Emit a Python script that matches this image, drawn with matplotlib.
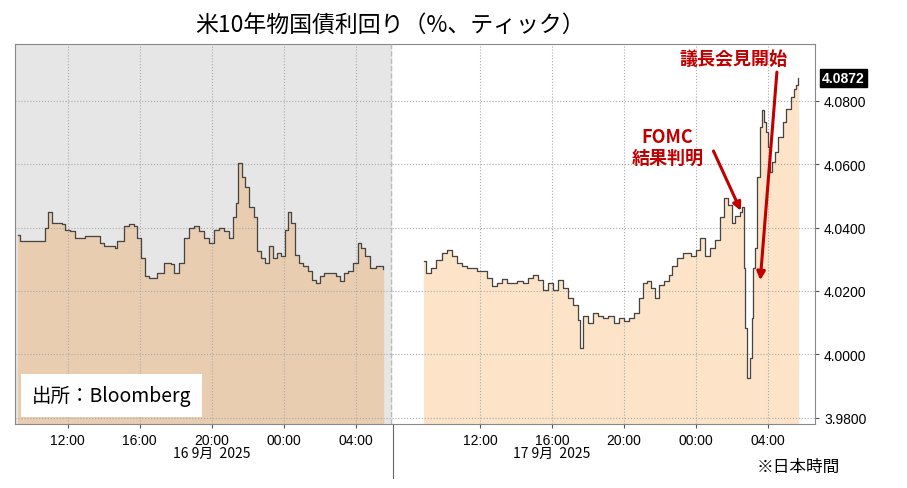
import matplotlib.pyplot as plt

plt.rcParams['font.family'] = ['Noto Sans CJK JP', 'DejaVu Sans']

# hours since midnight of each trading day (values past 24 = next day)
day1_hours = [9.24, 9.35, 9.90, 10.23, 10.45, 10.73, 10.90, 11.12, 11.67, 11.83, 12.11, 12.39, 12.66, 12.94,
              13.49, 13.77, 14.04, 14.60, 14.76, 15.15, 15.43, 15.70, 15.87, 16.09, 16.31, 16.53, 16.97, 17.36,
              17.75, 17.91, 18.19, 18.46, 18.74, 19.02, 19.29, 19.57, 19.85, 20.12, 20.40, 20.67, 20.95, 21.17,
              21.34, 21.45, 21.67, 21.83, 22.06, 22.33, 22.50, 22.72, 22.94, 23.16, 23.38, 23.60, 23.82, 24.04,
              24.21, 24.38, 24.60, 24.82, 25.09, 25.37, 25.59, 25.81, 26.03, 26.25, 26.59, 26.92, 27.14, 27.36,
              27.58, 27.86, 28.13, 28.30, 28.52, 28.80, 29.13, 29.51]
day1_yield = [4.0378, 4.0359, 4.0359, 4.0359, 4.0359, 4.0400, 4.0448, 4.0416, 4.0410, 4.0394, 4.0390, 4.0368,
              4.0368, 4.0375, 4.0375, 4.0352, 4.0343, 4.0337, 4.0359, 4.0406, 4.0413, 4.0406, 4.0368, 4.0305,
              4.0248, 4.0241, 4.0257, 4.0289, 4.0286, 4.0257, 4.0289, 4.0368, 4.0400, 4.0406, 4.0390, 4.0368,
              4.0352, 4.0394, 4.0400, 4.0390, 4.0368, 4.0432, 4.0479, 4.0603, 4.0559, 4.0527, 4.0464, 4.0432,
              4.0327, 4.0305, 4.0289, 4.0343, 4.0305, 4.0321, 4.0311, 4.0394, 4.0448, 4.0416, 4.0314, 4.0289,
              4.0279, 4.0263, 4.0235, 4.0225, 4.0248, 4.0257, 4.0257, 4.0248, 4.0232, 4.0257, 4.0263, 4.0289,
              4.0352, 4.0337, 4.0311, 4.0273, 4.0279, 4.0270]

day2_hours = [8.91, 9.02, 9.30, 9.58, 9.87, 10.15, 10.43, 10.71, 10.99, 11.27, 11.55, 11.83, 12.39, 12.67, 12.96,
              13.24, 13.52, 13.80, 14.08, 14.36, 14.64, 14.92, 15.20, 15.48, 15.76, 16.04, 16.33, 16.61, 16.89,
              17.17, 17.45, 17.56, 17.73, 18.01, 18.29, 18.57, 18.85, 19.13, 19.42, 19.70, 19.98, 20.26, 20.54,
              20.82, 21.04, 21.27, 21.49, 21.72, 21.94, 22.22, 22.51, 22.67, 22.96, 23.29, 23.52, 23.74, 23.97,
              24.19, 24.47, 24.75, 25.03, 25.31, 25.54, 25.76, 25.99, 26.16, 26.44, 26.55, 26.66, 26.72, 26.83,
              27.00, 27.11, 27.17, 27.28, 27.39, 27.56, 27.67, 27.79, 27.90, 28.01, 28.12, 28.24, 28.40, 28.57,
              28.80, 29.02, 29.25, 29.42, 29.53, 29.64]
day2_yield = [4.0295, 4.0257, 4.0273, 4.0298, 4.0321, 4.0330, 4.0311, 4.0289, 4.0279, 4.0273, 4.0273, 4.0263,
              4.0241, 4.0216, 4.0225, 4.0238, 4.0225, 4.0225, 4.0232, 4.0225, 4.0241, 4.0251, 4.0235, 4.0203,
              4.0225, 4.0203, 4.0235, 4.0210, 4.0178, 4.0156, 4.0108, 4.0019, 4.0121, 4.0098, 4.0130, 4.0121,
              4.0114, 4.0121, 4.0098, 4.0114, 4.0105, 4.0114, 4.0130, 4.0178, 4.0225, 4.0232, 4.0210, 4.0178,
              4.0219, 4.0232, 4.0251, 4.0279, 4.0305, 4.0321, 4.0321, 4.0311, 4.0330, 4.0368, 4.0311, 4.0337,
              4.0362, 4.0432, 4.0495, 4.0473, 4.0416, 4.0438, 4.0448, 4.0464, 4.0273, 4.0083, 3.9924, 3.9987,
              4.0114, 4.0273, 4.0337, 4.0559, 4.0718, 4.0771, 4.0733, 4.0702, 4.0654, 4.0575, 4.0606, 4.0638,
              4.0686, 4.0733, 4.0775, 4.0813, 4.0838, 4.0851, 4.0872]

yticks = [3.98, 4.00, 4.02, 4.04, 4.06, 4.08]
tick_hours = [12, 16, 20, 24, 28]
tick_labels = ['12:00', '16:00', '20:00', '00:00', '04:00']
last_value = 4.0872

DAY2_SHIFT = 22.9   # axis offset between the two sessions
SPLIT = 29.93

fig = plt.figure(figsize=(9.07, 4.89), dpi=100)
ax = fig.add_axes([0.0165, 0.131, 0.882, 0.777])

x2 = [h + DAY2_SHIFT for h in day2_hours]
ax.axvspan(9.07, SPLIT, color='#e6e6e6', zorder=0)
ax.fill_between(day1_hours, day1_yield, 3.9, step='post', color='#e8cdb0', zorder=1)
ax.fill_between(x2, day2_yield, 3.9, step='post', color='#fde3c8', zorder=1)
ax.step(day1_hours, day1_yield, where='post', color='#444444', lw=0.9, zorder=2)
ax.step(x2, day2_yield, where='post', color='#444444', lw=0.9, zorder=2)
ax.axvline(SPLIT, color='#bbbbbb', ls='--', lw=1, zorder=3)

ax.set_xlim(9.07, 53.5)
ax.set_ylim(3.978, 4.098)
xt = tick_hours + [h + DAY2_SHIFT for h in tick_hours]
ax.set_xticks(xt)
ax.set_xticklabels(tick_labels * 2, fontsize=10, family=['Liberation Sans'])
ax.yaxis.tick_right()
ax.set_yticks(yticks)
ax.set_yticklabels([f'{v:.4f}' for v in yticks], fontsize=10, family=['Liberation Sans'])
ax.grid(True, ls=':', color='#aaaaaa', lw=0.8)
ax.tick_params(length=3, color='#555555')
for s in ax.spines.values():
    s.set_color('#888888')
    s.set_linewidth(0.8)

# separator between days below the axis
ax.plot([SPLIT + 0.15, SPLIT + 0.15], [3.978, 3.961], color='#666666', lw=0.8, clip_on=False)
ax.text(20, 3.9688, '16 9月  2025', ha='center', va='center', fontsize=10)
ax.text(16 + DAY2_SHIFT, 3.9688, '17 9月  2025', ha='center', va='center', fontsize=10)

ax.text(53.9, last_value, f'{last_value:.4f}', color='white', fontsize=10, va='center',
        family=['Liberation Sans'], fontweight='bold',
        bbox=dict(boxstyle='square,pad=0.15', fc='black', ec='black'))

fig.text(0.43, 0.948, '米10年物国債利回り（%、ティック）', ha='center', va='center', fontsize=16.5)
fig.text(0.88, 0.045, '※日本時間', ha='center', va='center', fontsize=12)
ax.text(10.0, 3.987, '出所：Bloomberg', fontsize=14, va='center',
        bbox=dict(boxstyle='square,pad=0.55', fc='white', ec='none'))

red = '#c00000'
ax.text(45.3, 4.0654, 'FOMC\n結果判明', color=red, fontsize=13, fontweight='bold',
        ha='center', va='center', linespacing=1.1)
ax.annotate('', xy=(26.55 + DAY2_SHIFT, 4.0445), xytext=(24.9 + DAY2_SHIFT, 4.0650),
            arrowprops=dict(arrowstyle='-|>', color=red, lw=2.2, mutation_scale=12))
ax.text(26.06 + DAY2_SHIFT, 4.0933, '議長会見開始', color=red, fontsize=13, fontweight='bold',
        ha='center', va='center')
ax.annotate('', xy=(27.55 + DAY2_SHIFT, 4.0225), xytext=(28.5 + DAY2_SHIFT, 4.0900),
            arrowprops=dict(arrowstyle='-|>', color=red, lw=2.2, mutation_scale=12))

fig.savefig('out.png', dpi=100)
